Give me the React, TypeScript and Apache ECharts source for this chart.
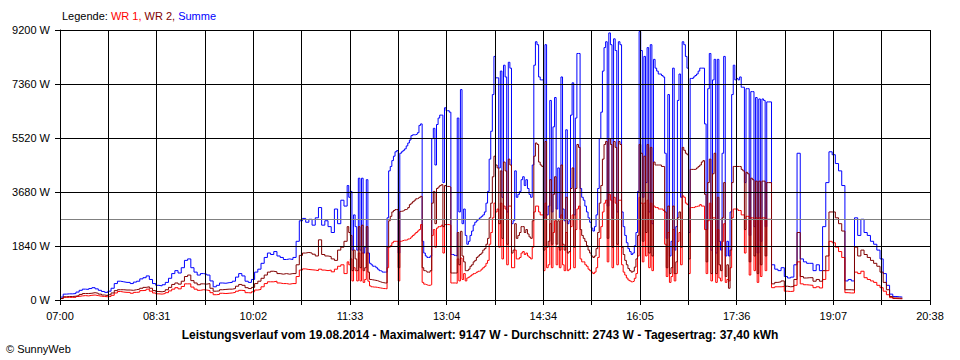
import React, { useEffect, useRef } from 'react';
import * as echarts from 'echarts';

// ---- time axis ----
const START_HOUR = 7; // 07:00
const AXIS_END_MIN = 818; // 20:38
const X_DIVISIONS = 18;
const UNITS_PER_MIN = 9; // axis runs in 1/9 minute so grid interval is an integer
// sample times (minutes after 07:00): [from, to, step]
const TIME_SEGMENTS: [number, number, number][] = [
  [0, 267, 3],
  [270, 666, 1.5],
  [669, 792, 3],
];

// ---- y axis ----
const Y_MAX = 9200;
const Y_STEP = 1840;
const AVERAGE_W = 2743;

const SERIES_NAMES = ['Summe', 'WR 1', 'WR 2'];
const SERIES_COLORS = ['#0000ff', '#ff0000', '#800000'];

const TITLE = 'Leistungsverlauf vom 19.08.2014 - Maximalwert: 9147 W - Durchschnitt: 2743 W - Tagesertrag: 37,40 kWh';
const COPYRIGHT = '© SunnyWeb';

// Summe (W)
const SUMME = [
  // 07:00 - 11:27, every 3 min
  100, 200, 210, 210, 220, 270, 330, 370, 360, 390,
  420, 380, 330, 290, 260, 300, 400, 560, 640, 620,
  600, 600, 560, 610, 640, 720, 760, 820, 700, 560,
  500, 480, 520, 600, 740, 900, 1000, 920, 1100, 1350,
  1400, 1100, 950, 850, 900, 880, 850, 650, 450, 500,
  580, 570, 590, 600, 640, 780, 900, 820, 640, 600,
  700, 950, 1050, 1250, 1450, 1600, 1550, 1650, 1500, 1450,
  1380, 1400, 1380, 1450, 2000, 2700, 2780, 2650, 2750, 2550,
  2800, 3150, 2550, 2700, 2500, 2300, 3100, 2600, 3400, 3200,
  // 11:30 - 18:06, every 1.5 min
  3900, 3500, 3700, 1700, 2900, 2500, 1700, 4150, 1700, 4150,
  1600, 1800, 4100, 1600, 1250, 1200, 1150, 1150, 1100, 1050,
  1000, 980, 950, 950, 950, 2800, 4400, 4550, 4750, 4900,
  5050, 5090, 1600, 5000, 5050, 5100, 5150, 5250, 5350, 5450,
  5600, 5630, 5630, 5650, 5700, 5950, 6000, 2000, 1600, 1500,
  1450, 1450, 1500, 5500, 5850, 4600, 5980, 6200, 6300, 6300,
  4000, 6550, 6450, 6450, 6400, 1550, 1550, 1520, 1500, 6200,
  3000, 7170, 2600, 3100, 2200, 1900, 2000, 2200, 2350, 2550,
  2650, 2700, 2750, 2800, 2850, 2900, 3000, 3300, 3700, 4800,
  5750, 7000, 8300, 7570, 7570, 4500, 7800, 3500, 8000, 7600,
  3000, 8100, 7900, 2600, 2700, 4400, 3500, 3600, 3700, 4100,
  4200, 3900, 4100, 3800, 3600, 3500, 4600, 8000, 8800, 8700,
  7600, 7500, 7500, 2800, 8700, 2900, 3200, 6800, 3000, 5900,
  6900, 3100, 4500, 2800, 7600, 3100, 2700, 5800, 2600, 2700,
  6300, 7400, 2900, 6200, 8400, 8400, 3800, 3500, 3400, 3200,
  3000, 2800, 2650, 2450, 2350, 2500, 2900, 3800, 5500, 6400,
  7800, 8600, 8800, 3200, 9100, 8700, 2800, 8900, 8500, 3000,
  8800, 8700, 3000, 2500, 2200, 1950, 1750, 1650, 1550, 1600,
  1850, 2300, 3700, 9147, 8500, 3500, 8300, 4000, 8600, 3000,
  8700, 2600, 8200, 7900, 7800, 7700, 7700, 7650, 7600, 5000,
  2100, 7000, 1500, 2000, 7900, 1700, 2500, 6800, 7700, 3500,
  8800, 8700, 8300, 7900, 2300, 7550, 7550, 7600, 7650, 7700,
  7800, 7900, 7900, 7900, 6000, 2400, 7200, 8400, 1700, 7500,
  8200, 1600, 8200, 2000, 1700, 5000, 8300, 1500, 2000, 1500,
  3000, 7000, 8000, 7500, 7550, 7500, 7600, 7250, 7250, 4000,
  7200, 7200, 2200, 7100, 7100, 2500, 6900, 1600, 6850, 2000,
  6850, 6800, 2500, 6750, 6750,
  // 18:09 - 20:12, every 3 min
  1200, 1050, 1000, 1100, 800, 750, 780, 1200, 5000, 1400,
  1300, 1250, 1250, 1000, 1200, 1000, 2500, 4000, 5050, 4950,
  4650, 4400, 3900, 650, 700, 650, 2800, 2200, 2750, 2300,
  2200, 2000, 1900, 1700, 1400, 900, 500, 200, 120, 110,
  100, 80,
];

// WR 1 (W)
const WR1 = [
  50, 90, 90, 90, 90, 120, 140, 150, 140, 160,
  170, 150, 130, 120, 110, 120, 160, 240, 290, 270,
  260, 260, 230, 260, 270, 320, 330, 370, 300, 240,
  210, 200, 220, 250, 310, 370, 420, 380, 460, 550,
  550, 440, 370, 330, 350, 340, 320, 250, 180, 190,
  230, 220, 230, 240, 260, 300, 330, 320, 250, 240,
  280, 340, 360, 450, 560, 620, 620, 640, 580, 560,
  560, 540, 560, 560, 800, 1020, 1060, 1040, 1030, 1020,
  1000, 1050, 1020, 1000, 1020, 960, 1050, 1150, 1200, 900,
  1300, 1200, 1400, 650, 1100, 1000, 650, 1600, 650, 1600,
  600, 700, 1600, 640, 480, 450, 440, 440, 430, 420,
  410, 400, 390, 390, 380, 1100, 1800, 1850, 1950, 2000,
  2000, 2000, 650, 2000, 2020, 2040, 2040, 2050, 2080, 2100,
  2150, 2200, 2250, 2300, 2350, 2400, 2570, 600, 540, 520,
  500, 500, 520, 2200, 2400, 1800, 2450, 2500, 2500, 2550,
  1600, 2570, 2570, 2570, 2550, 580, 580, 580, 570, 1400,
  650, 1430, 700, 900, 650, 750, 780, 820, 860, 900,
  920, 950, 980, 1000, 1050, 1100, 1150, 1250, 1350, 1900,
  2300, 2800, 3300, 3000, 3100, 1800, 3300, 1400, 3200, 3100,
  1200, 3200, 3200, 1100, 1100, 1700, 1400, 1400, 1450, 1600,
  1650, 1550, 1600, 1500, 1450, 1400, 1800, 3000, 3200, 3200,
  3000, 2900, 2900, 1000, 3300, 1100, 1200, 2600, 1100, 2300,
  2700, 1200, 1800, 1100, 2900, 1200, 1000, 2300, 1000, 1050,
  2500, 2900, 1100, 2400, 3100, 3200, 1400, 1300, 1300, 1200,
  1150, 1050, 1000, 950, 900, 950, 1100, 1450, 2100, 2500,
  3000, 3300, 3400, 1300, 3600, 3400, 1100, 3500, 3300, 1200,
  3400, 3400, 1200, 950, 850, 750, 680, 650, 620, 640,
  740, 900, 1500, 3500, 3300, 1300, 3300, 1500, 3400, 1100,
  3300, 1000, 3200, 3150, 3150, 3100, 3100, 3100, 3050, 1900,
  800, 2300, 600, 800, 2400, 650, 900, 2000, 2300, 1200,
  3550, 3500, 3300, 3250, 900, 3150, 3150, 3150, 3180, 3200,
  3200, 3250, 3200, 3200, 2400, 900, 2700, 3300, 650, 2800,
  2800, 600, 2400, 750, 650, 2000, 2600, 600, 700, 650,
  1100, 2800, 3100, 3100, 3100, 3050, 3050, 2900, 2900, 1600,
  2850, 2850, 850, 2800, 2800, 1000, 2800, 600, 2800, 800,
  2800, 2800, 1000, 2750, 2750,
  420, 450, 450, 460, 300, 290, 300, 500, 1300, 550,
  520, 510, 500, 420, 450, 410, 700, 1000, 2000, 1950,
  1800, 1650, 1450, 250, 240, 240, 950, 900, 980, 760,
  700, 650, 600, 500, 420, 300, 180, 80, 50, 45,
  40, 30,
];

// WR 2 (W)
const WR2 = [
  50, 110, 120, 120, 130, 150, 190, 220, 220, 230,
  250, 230, 200, 170, 150, 180, 240, 320, 350, 350,
  340, 340, 330, 350, 370, 400, 430, 450, 400, 320,
  290, 280, 300, 350, 430, 530, 580, 540, 640, 800,
  850, 660, 580, 520, 550, 540, 560, 400, 300, 310,
  350, 360, 370, 370, 390, 470, 530, 500, 420, 390,
  430, 560, 640, 740, 850, 950, 980, 960, 900, 880,
  900, 880, 900, 900, 1200, 1520, 1600, 1620, 1600, 1560,
  1500, 2050, 1550, 1500, 1480, 1400, 1350, 1700, 1800, 2000,
  2500, 2300, 2200, 1000, 1700, 1400, 1000, 2500, 1100, 2550,
  1000, 1100, 2500, 950, 700, 690, 680, 670, 660, 640,
  620, 600, 590, 580, 580, 1800, 2700, 2850, 3000, 3050,
  3080, 3080, 1100, 3020, 3030, 3050, 3080, 3100, 3150, 3250,
  3300, 3350, 3400, 3450, 3470, 3500, 3530, 1100, 1000, 980,
  950, 950, 1000, 3300, 3700, 2600, 3800, 3850, 3900, 3930,
  2500, 3900, 3870, 3870, 3850, 920, 920, 920, 920, 2300,
  1200, 2340, 1500, 1300, 1000, 1000, 1050, 1150, 1200, 1300,
  1350, 1450, 1500, 1550, 1600, 1700, 1750, 1900, 2100, 2800,
  3300, 4200, 4900, 4600, 4500, 2600, 4400, 2100, 4700, 4400,
  1900, 4800, 4600, 1600, 1700, 2600, 2100, 2200, 2300, 2500,
  2500, 2300, 2400, 2250, 2150, 2100, 2700, 4900, 5350, 5300,
  4700, 4600, 4550, 1700, 5400, 1800, 2000, 4100, 1900, 3600,
  4200, 1900, 2700, 1700, 4600, 1900, 1700, 3500, 1600, 1650,
  3800, 4500, 1800, 3800, 5300, 5200, 2400, 2200, 2100, 2000,
  1850, 1700, 1600, 1500, 1450, 1500, 1750, 2300, 3300, 3900,
  4800, 5300, 5400, 2100, 5500, 5300, 1800, 5400, 5200, 1900,
  5400, 5300, 1800, 1550, 1350, 1200, 1070, 1000, 950, 980,
  1120, 1400, 2200, 5300, 5000, 2000, 4900, 2300, 5300, 1600,
  5200, 1500, 4700, 4600, 4600, 4600, 4600, 4550, 4550, 3000,
  1100, 3200, 900, 1100, 3200, 900, 1300, 2800, 3000, 1800,
  5200, 5100, 5000, 4950, 1400, 4450, 4450, 4450, 4460, 4500,
  4550, 4600, 4700, 4750, 3600, 1300, 4000, 4800, 900, 4300,
  5000, 900, 3500, 1200, 1000, 2800, 4000, 800, 1200, 400,
  1700, 4000, 4550, 4550, 4550, 4550, 4550, 4450, 4400, 2400,
  4350, 4300, 1300, 4150, 4100, 1500, 4050, 900, 4050, 1200,
  4050, 4050, 1500, 4000, 4000,
  550, 600, 620, 650, 470, 450, 460, 700, 2300, 800,
  750, 760, 760, 640, 700, 640, 1000, 1500, 3000, 3000,
  2800, 2600, 2350, 350, 350, 340, 1800, 1500, 1700, 1550,
  1450, 1350, 1250, 1150, 950, 600, 350, 120, 70, 65,
  60, 50,
];

const FONT = '"Liberation Sans", Arial, sans-serif';

const TIME_MIN: number[] = [];
TIME_SEGMENTS.forEach(([from, to, step]) => {
  for (let k = 0; from + k * step <= to + 1e-9; k++) TIME_MIN.push(from + k * step);
});

const toSeries = (vals: number[]) =>
  TIME_MIN.map((t, i) => [Math.round(t * UNITS_PER_MIN * 10) / 10, vals[i] ?? null]);

const fmtTime = (units: number) => {
  const total = Math.round(START_HOUR * 60 + units / UNITS_PER_MIN);
  const h = Math.floor(total / 60);
  const m = total % 60;
  return `${String(h).padStart(2, '0')}:${String(m).padStart(2, '0')}`;
};

export default function App() {
  const ref = useRef<HTMLDivElement>(null);

  useEffect(() => {
    if (!ref.current) return;
    const chart = echarts.init(ref.current, undefined, { renderer: 'svg' });
    const xMax = AXIS_END_MIN * UNITS_PER_MIN;
    const xInterval = xMax / X_DIVISIONS;
    const values = [SUMME, WR1, WR2];

    chart.setOption({
      animation: false,
      backgroundColor: '#ffffff',
      grid: { left: 60, right: 30, top: 30, bottom: 60, show: false, outerBoundsMode: 'none' },
      xAxis: {
        type: 'value',
        min: 0,
        max: xMax,
        interval: xInterval,
        z: 10,
        axisLine: { show: true, onZero: false, lineStyle: { color: '#000', width: 1 } },
        axisTick: { show: true, length: 5, lineStyle: { color: '#000', width: 1 } },
        splitLine: { show: true, lineStyle: { color: '#000', width: 1 } },
        axisLabel: {
          color: '#000',
          fontSize: 11,
          fontFamily: FONT,
          margin: 10,
          showMinLabel: true,
          showMaxLabel: true,
          formatter: (v: number) => {
            const idx = Math.round(v / xInterval);
            return idx % 2 === 0 ? fmtTime(v) : '';
          },
        },
      },
      yAxis: {
        type: 'value',
        min: 0,
        max: Y_MAX,
        interval: Y_STEP,
        z: 10,
        axisLine: { show: true, lineStyle: { color: '#000', width: 1 } },
        axisTick: { show: true, length: 5, lineStyle: { color: '#000', width: 1 } },
        splitLine: { show: true, lineStyle: { color: '#000', width: 1 } },
        axisLabel: {
          color: '#000',
          fontSize: 11,
          fontFamily: FONT,
          margin: 10,
          formatter: (v: number) => `${v} W`,
        },
      },
      series: SERIES_NAMES.map((name, k) => ({
        name,
        type: 'line',
        step: 'end',
        data: toSeries(values[k]),
        showSymbol: false,
        symbol: 'none',
        silent: true,
        z: 2 + k,
        lineStyle: { color: SERIES_COLORS[k], width: 1 },
        itemStyle: { color: SERIES_COLORS[k] },
        emphasis: { disabled: true },
        ...(k === 2
          ? {
              markLine: {
                silent: true,
                symbol: ['none', 'none'],
                label: { show: false },
                lineStyle: { color: '#808080', type: 'solid', width: 1 },
                data: [{ yAxis: AVERAGE_W }],
              },
            }
          : {}),
      })),
      graphic: [
        {
          type: 'text',
          x: 62,
          y: 16,
          style: {
            text: `{k|Legende: }{a|${SERIES_NAMES[1]}, }{b|${SERIES_NAMES[2]}, }{c|${SERIES_NAMES[0]}}`,
            font: `11px ${FONT}`,
            verticalAlign: 'middle',
            rich: {
              k: { fill: '#000', fontSize: 11, fontFamily: FONT },
              a: { fill: SERIES_COLORS[1], fontSize: 11, fontFamily: FONT },
              b: { fill: SERIES_COLORS[2], fontSize: 11, fontFamily: FONT },
              c: { fill: SERIES_COLORS[0], fontSize: 11, fontFamily: FONT },
            },
          },
        },
        {
          type: 'text',
          x: 480,
          y: 335,
          style: {
            text: TITLE,
            font: `bold 12px ${FONT}`,
            fill: '#000',
            align: 'center',
            verticalAlign: 'middle',
          },
        },
        {
          type: 'text',
          x: 6,
          y: 349,
          style: {
            text: COPYRIGHT,
            font: `11px ${FONT}`,
            fill: '#000',
            align: 'left',
            verticalAlign: 'middle',
          },
        },
      ],
    });

    return () => chart.dispose();
  }, []);

  return (
    <div
      ref={ref}
      style={{ position: 'absolute', left: 0, top: 0, width: 960, height: 360, background: '#fff' }}
    />
  );
}
